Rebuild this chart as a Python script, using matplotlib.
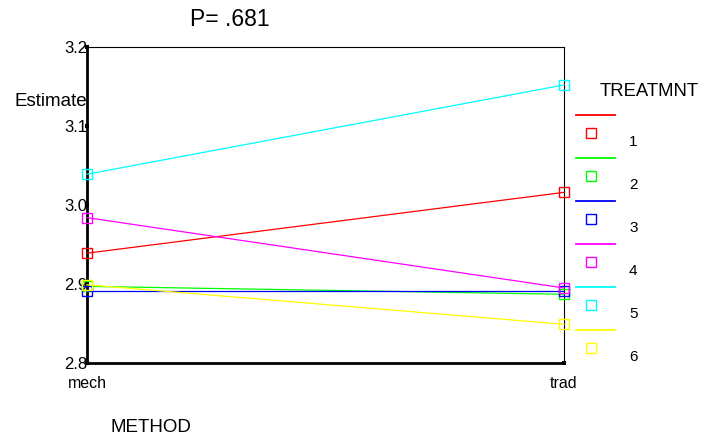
import matplotlib
matplotlib.use("Agg")
import matplotlib.pyplot as plt
from matplotlib.lines import Line2D

plt.rcParams['font.family'] = ['Liberation Sans', 'DejaVu Sans']

methods = ['mech', 'trad']
treatments = ['1', '2', '3', '4', '5', '6']
colors = ['#ff0000', '#00ff00', '#0000ff', '#ff00ff', '#00ffff', '#ffff00']
estimates = [
    [2.939, 3.016],
    [2.897, 2.887],
    [2.891, 2.891],
    [2.984, 2.895],
    [3.039, 3.152],
    [2.899, 2.849],
]
y_ticks = [2.8, 2.9, 3.0, 3.1, 3.2]

fig = plt.figure(figsize=(7.04, 4.38), dpi=100)
ax = fig.add_axes([87 / 704, 1 - 363 / 438, 477 / 704, 316 / 438])

xs = list(range(len(methods)))
for vals, c in zip(estimates, colors):
    ax.plot(xs, vals, color=c, lw=0.9, marker='s', markersize=7,
            markerfacecolor='none', markeredgecolor=c, markeredgewidth=1.0,
            clip_on=False, zorder=3)

ax.set_xlim(0, 1)
ax.set_ylim(2.8, 3.2)
ax.set_xticks(xs)
ax.set_xticklabels(methods, fontsize=11.5)
ax.set_yticks(y_ticks)
ax.set_yticklabels([f'{v:.1f}' for v in y_ticks], fontsize=12)
ax.tick_params(axis='both', direction='inout', length=3, width=3, color='black')
ax.tick_params(axis='y', pad=-2)
ax.tick_params(axis='x', pad=8)

ax.spines['left'].set_linewidth(2.0)
ax.spines['bottom'].set_linewidth(2.0)
ax.spines['top'].set_linewidth(0.8)
ax.spines['right'].set_linewidth(0.8)

fig.text(230 / 704, 1 - 20 / 438, 'P= .681', fontsize=16.5, ha='center', va='center')
fig.text(14 / 704, 1 - 101 / 438, 'Estimate', fontsize=13.5, ha='left', va='center')
fig.text(110 / 704, 1 - 427 / 438, 'METHOD', fontsize=13.5, ha='left', va='center')

# legend drawn by hand to mimic the SPSS layout
fig.text(600 / 704, 1 - 92 / 438, 'TREATMNT', fontsize=13.3, ha='left', va='center')
for i, (t, c) in enumerate(zip(treatments, colors)):
    y_line = 115 + 43 * i
    fig.add_artist(Line2D([576 / 704, 615 / 704], [1 - y_line / 438] * 2,
                          color=c, lw=1.3, transform=fig.transFigure))
    fig.add_artist(Line2D([591 / 704], [1 - (y_line + 18) / 438], color=c,
                          marker='s', markersize=7, markerfacecolor='none',
                          markeredgewidth=1.0, transform=fig.transFigure))
    fig.text(629 / 704, 1 - (y_line + 27) / 438, t, fontsize=11,
             ha='left', va='center')

fig.savefig('out.png', dpi=100)
